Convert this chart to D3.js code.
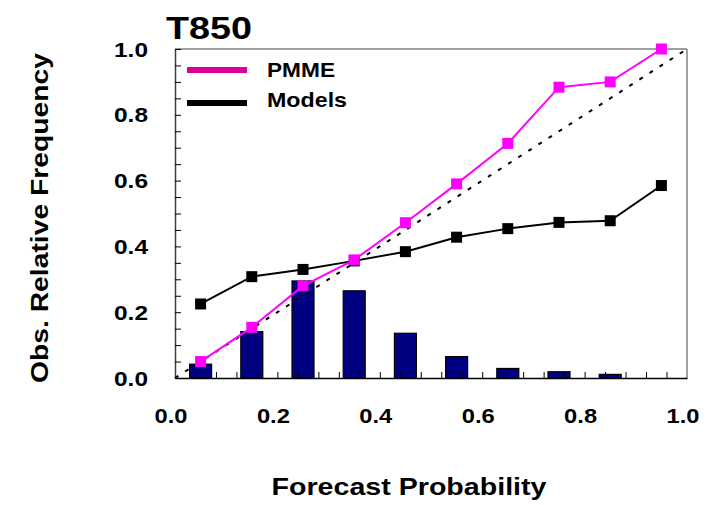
<!DOCTYPE html>
<html>
<head>
<meta charset="utf-8">
<script src="https://cdn.jsdelivr.net/npm/d3@7"></script>
<style>
  body { margin: 0; background: #fff; }
  text { font-family: "Liberation Sans", Arial, sans-serif; font-weight: bold; }
</style>
</head>
<body>
<script>
// forecast probability bins (centres)
var bins = [0.05, 0.15, 0.25, 0.35, 0.45, 0.55, 0.65, 0.75, 0.85, 0.95];
var pmme = [0.05, 0.154, 0.28, 0.359, 0.472, 0.59, 0.713, 0.884, 0.9, 1.0];
var models = [0.225, 0.308, 0.33, 0.356, 0.384, 0.428, 0.454, 0.473, 0.478, 0.585];
var freq = [0.042, 0.141, 0.295, 0.265, 0.136, 0.065, 0.029, 0.019, 0.011, 0];
var tickLabels = [0, 0.2, 0.4, 0.6, 0.8, 1.0];

var W = 708, H = 505;
var plotLeft = 175, plotRight = 687, plotTop = 49, plotBottom = 378;

var svg = d3.select("body").append("svg")
  .attr("width", W)
  .attr("height", H);

var x = d3.scaleLinear().domain([0, 1]).range([plotLeft, plotRight]);
var y = d3.scaleLinear().domain([0, 1]).range([plotBottom, plotTop]);

// bars (forecast frequency)
var barW = 22;
svg.selectAll(".bar")
  .data(bins.map(function (b, i) { return { b: b, v: freq[i] }; }).filter(function (d) { return d.v > 0; }))
  .enter().append("rect")
  .attr("x", function (d) { return x(d.b) - barW / 2; })
  .attr("y", function (d) { return y(d.v); })
  .attr("width", barW)
  .attr("height", function (d) { return y(0) - y(d.v); })
  .attr("fill", "#000080")
  .attr("stroke", "black")
  .attr("stroke-width", 1.2);

// frame top / right
svg.append("line").attr("x1", plotLeft).attr("y1", plotTop).attr("x2", plotRight).attr("y2", plotTop)
  .attr("stroke", "#808080").attr("stroke-width", 1.5);
svg.append("line").attr("x1", plotRight).attr("y1", plotTop).attr("x2", plotRight).attr("y2", plotBottom)
  .attr("stroke", "#808080").attr("stroke-width", 1.5);

// axes: inward ticks, labels drawn separately
var xAxis = d3.axisBottom(x).tickValues(d3.range(0, 25).map(function (i) { return i * 0.04; }))
  .tickSizeInner(-6).tickSizeOuter(0).tickFormat("");
svg.append("g").attr("transform", "translate(0," + plotBottom + ")").call(xAxis)
  .call(function (g) { g.select(".domain").attr("stroke-width", 1.5); });

var yAxis = d3.axisLeft(y).tickValues(d3.range(0, 21).map(function (i) { return i * 0.05; }))
  .tickSizeInner(-6).tickSizeOuter(0).tickFormat("");
svg.append("g").attr("transform", "translate(" + plotLeft + ",0)").call(yAxis)
  .call(function (g) { g.select(".domain").attr("stroke", "#404040").attr("stroke-width", 1.5); });

// tick labels
svg.selectAll(".xl").data(tickLabels).enter().append("text")
  .attr("x", function (d) { return x(d) - 4; })
  .attr("y", 423)
  .attr("text-anchor", "middle")
  .attr("font-size", 21)
  .attr("textLength", 33).attr("lengthAdjust", "spacingAndGlyphs")
  .text(function (d) { return d3.format(".1f")(d); });

svg.selectAll(".yl").data(tickLabels).enter().append("text")
  .attr("x", 148)
  .attr("y", function (d) { return y(d) + 7.5; })
  .attr("text-anchor", "end")
  .attr("font-size", 21)
  .attr("textLength", 34).attr("lengthAdjust", "spacingAndGlyphs")
  .text(function (d) { return d3.format(".1f")(d); });

// perfect reliability diagonal
svg.append("line")
  .attr("x1", x(0)).attr("y1", y(0)).attr("x2", x(1)).attr("y2", y(1))
  .attr("stroke", "black").attr("stroke-width", 2)
  .attr("stroke-dasharray", "4,8");

var line = d3.line()
  .x(function (d) { return x(d[0]); })
  .y(function (d) { return y(d[1]); });

function series(vals, color) {
  var pts = bins.map(function (b, i) { return [b, vals[i]]; });
  svg.append("path").datum(pts)
    .attr("d", line)
    .attr("fill", "none")
    .attr("stroke", color)
    .attr("stroke-width", 2);
  svg.selectAll(null).data(pts).enter().append("rect")
    .attr("x", function (d) { return x(d[0]) - 5.5; })
    .attr("y", function (d) { return y(d[1]) - 5.5; })
    .attr("width", 11).attr("height", 11)
    .attr("fill", color);
}
series(models, "black");
series(pmme, "#ff00ff");

// legend
svg.append("line").attr("x1", 187).attr("x2", 247).attr("y1", 70).attr("y2", 70)
  .attr("stroke", "#dd0099").attr("stroke-width", 6);
svg.append("line").attr("x1", 187).attr("x2", 247).attr("y1", 103).attr("y2", 103)
  .attr("stroke", "black").attr("stroke-width", 6);
svg.append("text").attr("x", 267).attr("y", 77).attr("font-size", 21)
  .attr("textLength", 68).attr("lengthAdjust", "spacingAndGlyphs").text("PMME");
svg.append("text").attr("x", 267).attr("y", 107).attr("font-size", 21)
  .attr("textLength", 80).attr("lengthAdjust", "spacingAndGlyphs").text("Models");

// titles
svg.append("text").attr("x", 166).attr("y", 39).attr("font-size", 32)
  .attr("textLength", 86).attr("lengthAdjust", "spacingAndGlyphs").text("T850");

svg.append("text").attr("x", 409).attr("y", 495).attr("text-anchor", "middle")
  .attr("font-size", 24)
  .attr("textLength", 275).attr("lengthAdjust", "spacingAndGlyphs")
  .text("Forecast Probability");

svg.append("text")
  .attr("transform", "translate(48,218) rotate(-90)")
  .attr("text-anchor", "middle")
  .attr("font-size", 24)
  .attr("textLength", 330).attr("lengthAdjust", "spacingAndGlyphs")
  .text("Obs. Relative Frequency");
</script>
</body>
</html>
